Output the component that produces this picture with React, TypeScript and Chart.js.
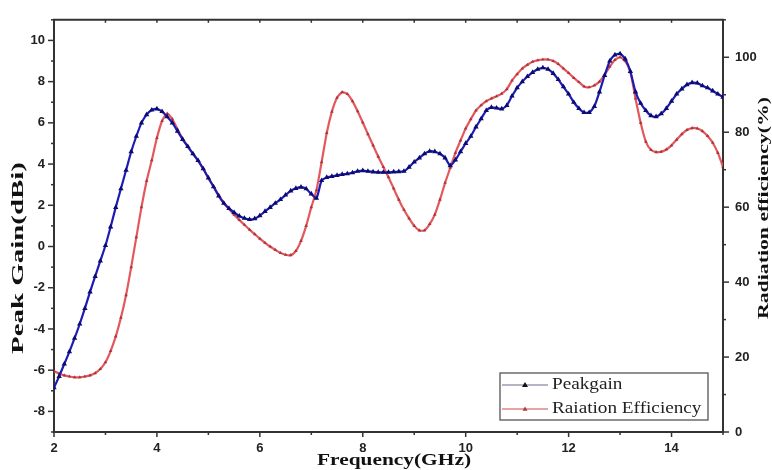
import React, { useEffect, useRef } from 'react';
import { Chart, registerables } from 'chart.js';

Chart.register(...registerables);

// Frequency sweep (GHz)
const FREQ_GHZ = [
  2.0, 2.1, 2.2, 2.3, 2.4, 2.5, 2.6, 2.7, 2.8, 2.9,
  3.0, 3.1, 3.2, 3.3, 3.4, 3.5, 3.6, 3.7, 3.8, 3.9,
  4.0, 4.1, 4.2, 4.3, 4.4, 4.5, 4.6, 4.7, 4.8, 4.9,
  5.0, 5.1, 5.2, 5.3, 5.4, 5.5, 5.6, 5.7, 5.8, 5.9,
  6.0, 6.1, 6.2, 6.3, 6.4, 6.5, 6.6, 6.7, 6.8, 6.9,
  7.0, 7.1, 7.2, 7.3, 7.4, 7.5, 7.6, 7.7, 7.8, 7.9,
  8.0, 8.1, 8.2, 8.3, 8.4, 8.5, 8.6, 8.7, 8.8, 8.9,
  9.0, 9.1, 9.2, 9.3, 9.4, 9.5, 9.6, 9.7, 9.8, 9.9,
  10.0, 10.1, 10.2, 10.3, 10.4, 10.5, 10.6, 10.7, 10.8, 10.9,
  11.0, 11.1, 11.2, 11.3, 11.4, 11.5, 11.6, 11.7, 11.8, 11.9,
  12.0, 12.1, 12.2, 12.3, 12.4, 12.5, 12.6, 12.7, 12.8, 12.9,
  13.0, 13.1, 13.2, 13.3, 13.4, 13.5, 13.6, 13.7, 13.8, 13.9,
  14.0, 14.1, 14.2, 14.3, 14.4, 14.5, 14.6, 14.7, 14.8, 14.9,
  15.0,
];

// Peak gain (dBi), left axis
const PEAK_GAIN_DBI = [
  -6.85, -6.3, -5.7, -5.1, -4.45, -3.76, -3.0, -2.2, -1.45, -0.7,
  0.05, 0.95, 1.9, 2.8, 3.7, 4.6, 5.35, 6.0, 6.4, 6.62,
  6.68, 6.55, 6.3, 6.0, 5.6, 5.2, 4.85, 4.5, 4.17, 3.77,
  3.33, 2.9, 2.45, 2.1, 1.85, 1.65, 1.48, 1.37, 1.31, 1.35,
  1.5, 1.7, 1.9, 2.1, 2.28, 2.5, 2.7, 2.82, 2.88, 2.8,
  2.55, 2.34, 3.2, 3.35, 3.4, 3.45, 3.5, 3.53, 3.58, 3.65,
  3.68, 3.65, 3.62, 3.6, 3.6, 3.6, 3.62, 3.63, 3.65, 3.85,
  4.1, 4.3, 4.5, 4.62, 4.6, 4.5, 4.3, 3.92, 4.2, 4.6,
  5.0, 5.35, 5.8, 6.2, 6.6, 6.75, 6.72, 6.68, 6.85, 7.3,
  7.7, 8.0, 8.25, 8.45, 8.6, 8.67, 8.6, 8.4, 8.1, 7.75,
  7.4, 7.0, 6.7, 6.5, 6.5, 6.8, 7.5, 8.3, 9.0, 9.3,
  9.35, 9.1, 8.5, 7.5, 6.95, 6.6, 6.35, 6.3, 6.45, 6.7,
  7.05, 7.4, 7.65, 7.85, 7.95, 7.93, 7.8, 7.7, 7.55, 7.4,
  7.25,
];

// Radiation efficiency (%), right axis
const RAD_EFF_PCT = [
  16.2, 15.6, 15.1, 14.8, 14.6, 14.6, 14.8, 15.1, 15.7, 16.8,
  18.6, 21.6, 25.5, 30.5, 36.5, 44, 52, 60, 67, 72.5,
  78.5, 83, 85, 83.5, 80.8, 78.3, 76.2, 74.3, 72.4, 70.2,
  67.8, 65.5, 63.2, 61.2, 59.5, 58, 56.6, 55.3, 54, 52.8,
  51.6, 50.5, 49.5, 48.6, 47.8, 47.3, 47.2, 48.3, 51, 55,
  60, 64.5, 72, 79.8, 85.5, 89.2, 90.7, 90.2, 88.3, 85.6,
  82.6, 79.5, 76.5, 73.5, 70.7, 68, 65, 62, 59.3, 57,
  55, 53.8, 53.8, 55.5, 58, 62, 66.5, 70.5, 74.5, 77.8,
  81, 83.5, 85.8, 87.2, 88.3, 89, 89.6, 90.3, 91.5, 93.8,
  95.5, 97, 98, 98.8, 99.2, 99.4, 99.4, 99, 98.2, 97,
  95.8, 94.5, 93.4, 92.2, 92, 92.5, 93.5, 95.3, 97.5, 99.3,
  100, 99, 96, 89, 82.5, 77.5, 75.3, 74.7, 74.8, 75.4,
  76.5, 78, 79.5, 80.6, 81.1, 81, 80.3, 79, 77.2, 74.5,
  70.8,
];

const X_TICK_LABELS = [2, 4, 6, 8, 10, 12, 14];
const LEFT_TICK_LABELS = [-8, -6, -4, -2, 0, 2, 4, 6, 8, 10];
const RIGHT_TICK_LABELS = [0, 20, 40, 60, 80, 100];
const SERIES_NAMES = ['Peakgain', 'Raiation Efficiency'];
const X_TITLE = 'Frequency(GHz)';
const Y_TITLE = 'Peak Gain(dBi)';
const Y1_TITLE = 'Radiation efficiency(%)';

const AXIS_COLOR = '#333';
const TICK_FONT = { family: '"Liberation Sans", Arial, sans-serif', weight: 'bold' as const, size: 13 };
const SERIF = '"Liberation Serif", "Times New Roman", serif';

function stretchedText(
  ctx: CanvasRenderingContext2D,
  text: string,
  cx: number,
  cy: number,
  rot: number,
  font: string,
  targetLen: number,
  color: string,
  align: CanvasTextAlign = 'center'
) {
  ctx.save();
  ctx.font = font;
  const w = ctx.measureText(text).width;
  ctx.translate(cx, cy);
  ctx.rotate(rot);
  ctx.scale(targetLen / w, 1);
  ctx.textAlign = align;
  ctx.textBaseline = 'middle';
  ctx.fillStyle = color;
  ctx.fillText(text, 0, 0);
  ctx.restore();
}

const framePlugin = {
  id: 'frameTicks',
  afterDraw(chart: any) {
    const { ctx, chartArea: a, scales } = chart;
    ctx.save();
    ctx.strokeStyle = AXIS_COLOR;
    ctx.lineWidth = 2;
    ctx.beginPath();
    ctx.moveTo(a.left - 1, a.top);
    ctx.lineTo(a.right + 1, a.top);
    ctx.stroke();
    ctx.lineWidth = 1.5;
    const seg = (x1: number, y1: number, x2: number, y2: number) => {
      ctx.beginPath();
      ctx.moveTo(x1, y1);
      ctx.lineTo(x2, y2);
      ctx.stroke();
    };
    scales.x.ticks.forEach((t: any) => {
      const px = scales.x.getPixelForValue(t.value);
      const major = X_TICK_LABELS.includes(t.value);
      seg(px, a.bottom, px, a.bottom + (major ? 5 : 3));
      seg(px, a.top, px, a.top + 3);
    });
    scales.y.ticks.forEach((t: any) => {
      const py = scales.y.getPixelForValue(t.value);
      const major = LEFT_TICK_LABELS.includes(t.value);
      seg(a.left, py, a.left - (major ? 6 : 3), py);
    });
    scales.y1.ticks.forEach((t: any) => {
      const py = scales.y1.getPixelForValue(t.value);
      const major = RIGHT_TICK_LABELS.includes(t.value);
      seg(a.right, py, a.right + (major ? 6 : 3), py);
    });
    ctx.restore();

    // axis titles
    stretchedText(ctx, Y_TITLE, 19, 258, -Math.PI / 2, `bold 16px ${SERIF}`, 192, '#111');
    stretchedText(ctx, Y1_TITLE, 764, 208, -Math.PI / 2, `bold 15px ${SERIF}`, 222, '#111');
    stretchedText(ctx, X_TITLE, 394, 461, 0, `bold 17px ${SERIF}`, 154, '#111');
  },
};

const legendPlugin = {
  id: 'boxLegend',
  afterDraw(chart: any) {
    const { ctx, chartArea: a } = chart;
    const w = 208;
    const h = 47;
    const x = a.right - 15 - w;
    const y = a.bottom - 12 - h;
    ctx.save();
    ctx.strokeStyle = '#555';
    ctx.lineWidth = 1.3;
    ctx.strokeRect(x, y, w, h);
    const lineCols = ['#6a6a90', '#d04848'];
    const markCols = ['#111', '#b03a40'];
    chart.data.datasets.forEach((ds: any, i: number) => {
      const ly = y + 12 + i * 24;
      ctx.strokeStyle = lineCols[i];
      ctx.lineWidth = 1;
      ctx.beginPath();
      ctx.moveTo(x + 2, ly);
      ctx.lineTo(x + 48, ly);
      ctx.stroke();
      ctx.fillStyle = markCols[i];
      const mx = x + 25;
      const r = i === 0 ? 3 : 2.5;
      ctx.beginPath();
      ctx.moveTo(mx, ly - r);
      ctx.lineTo(mx + r, ly + r * 0.7);
      ctx.lineTo(mx - r, ly + r * 0.7);
      ctx.closePath();
      ctx.fill();
      const name = SERIES_NAMES[i];
      ctx.font = `16px ${SERIF}`;
      const tw = ctx.measureText(name).width;
      stretchedText(ctx, name, x + 52, ly, 0, `16px ${SERIF}`, tw * 1.2, '#222', 'left');
    });
    ctx.restore();
  },
};

export default function App() {
  const canvasRef = useRef<HTMLCanvasElement | null>(null);

  useEffect(() => {
    if (!canvasRef.current) return;
    const gainPts = FREQ_GHZ.map((f, i) => ({ x: f, y: PEAK_GAIN_DBI[i] }));
    const effPts = FREQ_GHZ.map((f, i) => ({ x: f, y: RAD_EFF_PCT[i] }));
    const noGrid = { display: false, drawTicks: false };
    const chart = new Chart(canvasRef.current, {
      type: 'line',
      data: {
        datasets: [
          {
            label: SERIES_NAMES[0],
            data: gainPts,
            yAxisID: 'y',
            borderColor: '#1c1cb4',
            borderWidth: 2.2,
            pointStyle: 'triangle',
            pointRadius: 3.1,
            pointBackgroundColor: '#0c0c70',
            pointBorderWidth: 0,
            tension: 0.2,
          },
          {
            label: SERIES_NAMES[1],
            data: effPts,
            yAxisID: 'y1',
            borderColor: '#e4585c',
            borderWidth: 2.2,
            pointStyle: 'triangle',
            pointRadius: 2.1,
            pointBackgroundColor: 'rgba(150,40,50,0.75)',
            pointBorderWidth: 0,
            tension: 0.2,
          },
        ],
      },
      options: {
        responsive: false,
        animation: false,
        layout: { padding: { top: 11, left: 0, right: 0, bottom: 0 } },
        plugins: { legend: { display: false }, tooltip: { enabled: false } },
        scales: {
          x: {
            type: 'linear',
            min: 2,
            max: 15,
            position: 'bottom',
            grid: noGrid,
            border: { display: true, color: AXIS_COLOR, width: 2 },
            ticks: {
              stepSize: 1,
              autoSkip: false,
              maxRotation: 0,
              padding: 9,
              color: '#222',
              font: TICK_FONT,
              callback: (v: any) => (X_TICK_LABELS.includes(v) ? String(v) : ''),
            },
            afterFit: (s: any) => {
              s.height = 38;
            },
          },
          y: {
            type: 'linear',
            min: -9,
            max: 11,
            position: 'left',
            grid: noGrid,
            border: { display: true, color: AXIS_COLOR, width: 2 },
            ticks: {
              stepSize: 1,
              autoSkip: false,
              padding: 9,
              color: '#222',
              font: TICK_FONT,
              callback: (v: any) => (LEFT_TICK_LABELS.includes(v) ? String(v) : ''),
            },
            afterFit: (s: any) => {
              s.width = 54;
            },
          },
          y1: {
            type: 'linear',
            min: 0,
            max: 110,
            position: 'right',
            grid: noGrid,
            border: { display: true, color: AXIS_COLOR, width: 2 },
            ticks: {
              stepSize: 10,
              autoSkip: false,
              padding: 12,
              color: '#222',
              font: TICK_FONT,
              callback: (v: any) => (RIGHT_TICK_LABELS.includes(v) ? String(v) : ''),
            },
            afterFit: (s: any) => {
              s.width = 49;
            },
          },
        },
      },
      plugins: [framePlugin, legendPlugin],
    });
    return () => chart.destroy();
  }, []);

  return (
    <div style={{ position: 'absolute', left: 0, top: 0, width: 772, height: 470, background: '#fff' }}>
      <canvas ref={canvasRef} width={772} height={470} style={{ display: 'block' }} />
    </div>
  );
}
